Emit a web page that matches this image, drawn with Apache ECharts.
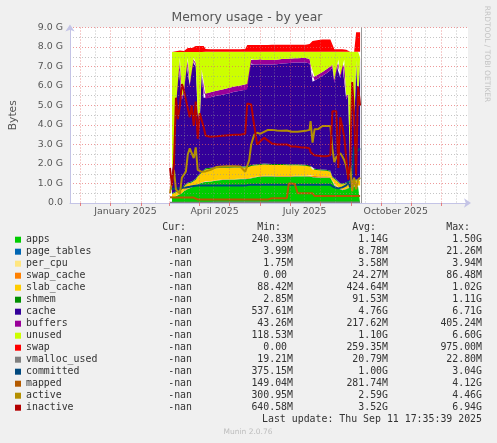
<!DOCTYPE html>
<html>
<head>
<meta charset="utf-8">
<script src="https://cdn.jsdelivr.net/npm/echarts@6/dist/echarts.min.js"></script>
<style>
html,body{margin:0;padding:0;background:#f0f0f0;}
#c{width:497px;height:443px;}
</style>
</head>
<body>
<div id="c"></div>
<script>
// Days since 1 Jan 2025 (lines start at day 60, areas at day 62)
const days = [60,62,64,66,68,70,72,74,76,78,80,82,84,86,88,90,92,94,96,101,107,113,119,125,131,136,138,140,142,145,148,151,155,159,163,168,173,178,180,183,186,189,193,197,201,202,204,206,210,214,218,222,224,226,228,230,232,234,236,238,240,242,244,246,248,250,252];
const areaDays = [62,64,66,68,70,72,74,76,78,80,82,84,86,88,90,92,94,96,101,107,113,119,125,131,136,138,140,142,145,148,151,155,159,163,168,173,178,180,183,186,189,193,197,201,202,204,206,210,214,218,222,224,226,228,230,232,234,236,238,240,242,244,246,248,250,252];

// Stacked areas (GiB)
const apps = [.30,.32,.35,.40,.45,.50,.60,.70,.72,.75,.80,.85,.90,.95,1.00,1.05,1.07,1.08,1.10,1.15,1.18,1.20,1.20,1.22,1.22,1.22,1.25,1.27,1.30,1.33,1.35,1.36,1.36,1.36,1.35,1.35,1.35,1.35,1.35,1.36,1.36,1.37,1.36,1.36,1.35,1.32,1.31,1.30,1.30,1.30,1.28,1.10,.90,.85,.75,.70,.65,.65,.70,.75,.80,.85,.85,.85,.85,.85];
const page_tables = [.005,.005,.005,.005,.005,.005,.005,.005,.005,.005,.005,.005,.005,.005,.005,.005,.005,.008,.008,.008,.008,.008,.008,.008,.008,.008,.008,.008,.008,.008,.008,.008,.008,.008,.008,.008,.008,.008,.008,.008,.008,.008,.008,.008,.010,.010,.010,.010,.010,.010,.010,.015,.015,.015,.015,.015,.015,.015,.015,.015,.015,.015,.015,.015,.015,.015];
const per_cpu = [.0018,.0018,.0018,.0018,.0018,.0018,.0018,.0018,.0018,.0018,.0018,.0018,.0018,.0018,.0018,.0018,.0018,.0037,.0037,.0037,.0037,.0037,.0037,.0037,.0037,.0037,.0037,.0037,.0037,.0037,.0037,.0037,.0037,.0037,.0037,.0037,.0037,.0037,.0037,.0037,.0037,.0037,.0037,.0037,.0037,.0037,.0037,.0037,.0037,.0037,.0037,.0037,.0037,.0037,.0037,.0037,.0037,.0037,.0037,.0037,.0037,.0037,.0037,.0037,.0037,.0037];
const swap_cache = [0,0,0,0,0,0,0,0,0,0,0,0,0,0,0,0,0,.02,.02,.02,.02,.02,.02,.02,.02,.02,.02,.02,.02,.02,.02,.02,.02,.02,.02,.02,.02,.02,.02,.02,.02,.02,.02,.02,.06,.06,.06,.06,.06,.06,.06,.03,.03,.03,.03,.03,.03,.03,.03,.03,.03,.03,.03,.03,.03,.03];
const slab_cache = [.14,.17,.19,.19,.19,.19,.24,.24,.27,.24,.24,.24,.29,.39,.44,.49,.57,.61,.62,.60,.59,.57,.59,.57,.57,.57,.60,.60,.59,.57,.57,.58,.57,.56,.57,.57,.56,.55,.55,.54,.54,.52,.52,.51,.43,.33,.32,.31,.29,.28,.25,.16,.26,.26,.26,.21,.21,.26,.26,.26,.26,.26,.26,.26,.26,.26];
const shmem = [.05,.05,.05,.05,.05,.05,.05,.05,.05,.05,.05,.05,.05,.05,.05,.05,.05,.06,.05,.05,.05,.05,.05,.05,.05,.06,.05,.05,.05,.05,.05,.05,.05,.05,.05,.05,.05,.05,.05,.05,.05,.05,.05,.05,.05,.05,.05,.05,.05,.05,.05,.05,.05,.05,.05,.05,.05,.05,.05,.05,.05,.05,.05,.05,.05,.05];
const cache = [1.10,1.55,4.20,6.65,6.60,4.55,4.70,6.30,6.25,4.95,6.20,6.15,5.75,3.10,2.60,5.10,3.70,3.57,3.62,3.67,3.70,3.77,3.83,3.88,3.93,3.94,5.17,5.20,5.13,5.12,5.12,5.08,5.09,5.10,5.12,5.15,5.18,5.20,5.21,5.22,5.22,5.23,5.24,5.20,5.00,4.45,4.53,4.67,4.81,4.95,5.15,5.60,4.90,5.90,6.05,5.40,6.20,6.15,4.25,4.40,.05,5.10,2.40,5.90,3.80,6.10];
const buffers = [.10,.10,.20,.15,.15,.15,.15,.15,.15,.10,.15,.15,.20,.15,.15,.15,.20,.25,.26,.26,.27,.28,.27,.27,.27,.28,.23,.23,.25,.25,.25,.23,.23,.23,.23,.23,.22,.22,.22,.22,.22,.23,.23,.23,.20,.20,.20,.20,.20,.20,.20,.15,.15,.20,.20,.15,.20,.20,.15,.10,.10,.15,.10,.20,.10,.15];
const unused = [6.05,5.55,2.75,.30,.30,2.30,2.00,.30,.30,1.65,.30,.30,.55,3.10,3.50,.90,2.15,2.15,2.07,1.99,1.93,1.85,1.78,1.73,1.68,1.65,.42,.37,.40,.40,.38,.42,.42,.42,.40,.37,.36,.35,.34,.33,.33,.32,.32,.37,.65,1.33,1.27,1.15,1.03,.90,.75,.65,1.45,.45,.40,1.20,.40,.40,2.30,2.15,6.45,1.30,4.05,.45,2.65,.30];
const swap = [0,0,.03,.05,.07,.03,.05,.10,.20,.20,.20,.25,.30,.30,.30,.33,.30,.15,.13,.13,.13,.13,.13,.13,.15,.35,.35,.35,.35,.35,.35,.35,.35,.37,.37,.37,.37,.37,.37,.37,.37,.37,.37,.40,.45,.55,.60,.60,.63,.63,.63,.55,.13,.13,.13,.13,.13,.13,.10,.05,0,0,0,1.00,1.00,1.00];

// Lines (GiB)
const vmalloc_used = [.019,.019,.019,.019,.019,.019,.019,.019,.019,.019,.019,.019,.019,.019,.019,.019,.019,.019,.019,.019,.020,.020,.020,.020,.020,.020,.020,.020,.020,.020,.020,.020,.020,.020,.020,.020,.020,.020,.020,.020,.021,.021,.021,.021,.021,.021,.021,.021,.021,.021,.021,.021,.021,.021,.021,.022,.022,.022,.022,.022,.022,.022,.022,.022,.022,.022,.022];
const committed = [.75,.70,.72,.72,.75,.75,.78,.80,.80,.82,.83,.85,.87,.88,.90,.90,.90,.90,.90,.90,.90,.90,.90,.90,.90,.90,.90,.93,.93,.93,.93,.93,.93,.93,.93,.93,.93,.93,.93,.93,.93,.93,.93,.93,.93,.93,.93,.93,.93,.93,.93,.93,.85,.80,.75,.75,.80,.80,.85,.90,1.10,.80,1.50,2.90,2.60,2.50,2.80];
const mapped = [.30,.28,.28,.28,.28,.28,.28,.28,.28,.28,.28,.28,.28,.18,.18,.18,.18,.18,.18,.18,.18,.18,.18,.18,.18,.18,.18,.18,.18,.18,.18,.18,.18,.18,.25,.25,.25,.25,1.00,1.00,.98,.50,.50,.50,.50,.50,.50,.36,.36,.36,.36,.36,.36,.36,.36,.36,.36,.36,.36,.36,.36,.36,.36,.36,.36,.36,.36];
const active = [.50,.60,1.70,.70,.80,.45,1.30,1.40,1.60,2.50,2.80,2.70,2.30,2.85,1.70,1.60,1.60,1.60,1.62,1.70,1.85,1.87,1.88,1.88,1.87,1.60,1.62,2.20,3.00,3.50,3.60,3.55,3.65,3.75,3.75,3.72,3.70,3.72,3.70,3.65,3.65,3.65,3.68,3.70,3.75,4.20,3.10,3.78,3.80,3.95,3.95,3.95,2.80,2.10,2.35,2.40,2.55,2.40,2.20,1.90,1.35,2.00,.60,1.30,.70,1.20,1.30];
const inactive = [1.80,.90,2.00,5.40,4.30,5.00,6.10,5.80,5.30,5.20,4.40,5.00,3.95,5.20,3.30,4.60,4.60,3.90,3.45,3.40,3.42,3.45,3.48,3.50,3.50,3.55,5.10,5.10,5.05,4.00,3.00,3.15,3.35,3.20,3.05,3.00,3.00,3.00,2.95,2.90,2.90,2.88,2.85,2.85,2.80,2.60,2.50,2.45,2.42,2.40,2.40,2.45,4.70,4.75,4.70,1.80,4.40,4.50,3.40,3.50,1.20,2.00,6.20,4.50,1.40,6.00,5.00];

// Axis ticks / labels (days since 1 Jan 2025)
const monthStarts = [-31,0,31,59,90,120,151,181,212,243,273,304,334];
const midMonths = [-16,15,45,74,104,135,165,196,227,257,288,318,349];
const labelDays = [15,105,196,288];
const labelTexts = ['January 2025','April 2025','July 2025','October 2025'];
const lastDataDay = 253;
const axisStartDay = -41, axisEndDay = 361;

// Legend table
const names = ['apps','page_tables','per_cpu','swap_cache','slab_cache','shmem','cache','buffers','unused','swap','vmalloc_used','committed','mapped','active','inactive'];
const colors = ['#00CC00','#0066B3','#FFE680','#FF8000','#FFCC00','#008F00','#330099','#990099','#CCFF00','#FF0000','#808080','#00487D','#B35A00','#B38F00','#B30000'];
const curVals = ['-nan','-nan','-nan','-nan','-nan','-nan','-nan','-nan','-nan','-nan','-nan','-nan','-nan','-nan','-nan'];
const minVals = ['240.33M','3.99M','1.75M','0.00 ','88.42M','2.85M','537.61M','43.26M','118.53M','0.00 ','19.21M','375.15M','149.04M','300.95M','640.58M'];
const avgVals = ['1.14G','8.78M','3.58M','24.27M','424.64M','91.53M','4.76G','217.62M','1.10G','259.35M','20.79M','1.00G','281.74M','2.59G','3.52G'];
const maxVals = ['1.50G','21.26M','3.94M','86.48M','1.02G','1.11G','6.71G','405.24M','6.60G','975.00M','22.80M','3.04G','4.12G','4.46G','6.94G'];
const headers = ['Cur:','Min:','Avg:','Max:'];

const SANS = '"DejaVu Sans"';
const MONO = '"DejaVu Sans Mono"';

const areaData = [apps,page_tables,per_cpu,swap_cache,slab_cache,shmem,cache,buffers,unused,swap];
const lineData = [vmalloc_used,committed,mapped,active,inactive];
// rows are [value, day]; encode maps column 1 to x, column 0 to y so that stacking happens on y
const rows = (xs, arr) => xs.map((d,i) => [arr[i], d]);

const series = [];
areaData.forEach((arr,i) => {
  series.push({
    name: names[i], type:'line', stack:'mem', data: rows(areaDays, arr), encode:{x:1, y:0},
    color: colors[i], symbol:'none', showSymbol:false,
    lineStyle:{width:0}, areaStyle:{color: colors[i], opacity:1},
    emphasis:{disabled:true}, z:2
  });
});
lineData.forEach((arr,j) => {
  const i = areaData.length + j;
  const s = {
    name: names[i], type:'line', data: rows(days, arr), encode:{x:1, y:0},
    color: colors[i], symbol:'none', showSymbol:false,
    lineStyle:{width:2, color: colors[i]},
    emphasis:{disabled:true}, z:3
  };
  if (j === 0) {
    s.markLine = {silent:true, symbol:'none', label:{show:false},
      lineStyle:{color:'#9a9a9a', width:1, type:'solid'},
      data:[{xAxis:lastDataDay}]};
  }
  series.push(s);
});

const graphics = [];
graphics.push({type:'text', x:487, y:54, rotation:-Math.PI/2,
  style:{text:'RRDTOOL / TOBI OETIKER', font:'7.5px '+SANS, fill:'#c4c4c4', align:'center', verticalAlign:'middle'}});
const headerX = [186,281,376,470];
headers.forEach((h,k) => graphics.push({type:'text', x:headerX[k], y:227.7,
  style:{text:h, font:'9.9px '+MONO, fill:'#333', align:'right', verticalAlign:'middle'}}));
const colX = [192,293,388,482];
[curVals,minVals,avgVals,maxVals].forEach((col,k) => {
  col.forEach((txt,i) => graphics.push({type:'text', x:colX[k], y:239.7 + 12*i,
    style:{text:txt, font:'9.9px '+MONO, fill:'#333', align:'right', verticalAlign:'middle'}}));
});
graphics.push({type:'text', x:482, y:419,
  style:{text:'Last update: Thu Sep 11 17:35:39 2025', font:'9.9px '+MONO, fill:'#333', align:'right', verticalAlign:'middle'}});
graphics.push({type:'text', x:248, y:432,
  style:{text:'Munin 2.0.76', font:'7.5px '+SANS, fill:'#bdbdbd', align:'center', verticalAlign:'middle'}});

const redGrid = {color:'rgba(228,100,100,0.65)', type:[1,2], width:1};
const grayGrid = {color:'rgba(150,150,150,0.55)', type:[1,2], width:1};
const axisCol = '#c4c4e6';

const option = {
  animation:false,
  backgroundColor:'#f0f0f0',
  title:{text:'Memory usage - by year', left:171.5, top:11.5, padding:0,
    textStyle:{fontFamily:SANS, fontSize:12.4, fontWeight:'normal', color:'#555'}},
  grid:{left:66, top:27.5, width:402, height:175.5, show:true, backgroundColor:'#ffffff', borderWidth:0},
  legend:{orient:'vertical', left:15, top:233.7, padding:0, itemGap:0, itemWidth:6, itemHeight:6,
    icon:'rect', selectedMode:false, data:names,
    textStyle:{fontFamily:MONO, fontSize:9.9, color:'#333', lineHeight:12, padding:0}},
  xAxis:[
    {type:'value', min:axisStartDay, max:axisEndDay, z:5,
      axisLine:{show:true, onZero:false, lineStyle:{color:axisCol, width:1}, symbol:['none','arrow'], symbolSize:[7,7], symbolOffset:[0,3]},
      axisTick:{show:true, length:3, customValues:monthStarts, lineStyle:{color:'rgba(228,100,100,0.8)'}},
      axisLabel:{customValues:labelDays, margin:4, fontFamily:SANS, fontSize:9.4, color:'#555',
        formatter: v => { const k = labelDays.indexOf(v); return k >= 0 ? labelTexts[k] : ''; }},
      splitLine:{show:true, lineStyle:redGrid}},
    {type:'value', min:axisStartDay, max:axisEndDay, z:4, position:'top',
      axisLine:{show:false, onZero:false}, axisTick:{show:false, customValues:midMonths}, axisLabel:{show:false},
      splitLine:{show:true, lineStyle:grayGrid}}
  ],
  yAxis:{type:'value', min:0, max:9, interval:1, z:5,
    name:'Bytes', nameLocation:'middle', nameGap:51, nameRotate:90,
    nameTextStyle:{fontFamily:SANS, fontSize:10.7, color:'#555'},
    axisLine:{show:true, onZero:false, lineStyle:{color:axisCol, width:1}, symbol:['none','arrow'], symbolSize:[7,7], symbolOffset:[0,3]},
    axisTick:{show:false},
    axisLabel:{fontFamily:SANS, fontSize:9.4, color:'#555', margin:7,
      formatter: v => v === 0 ? '0.0' : v.toFixed(1) + ' G'},
    splitLine:{show:true, lineStyle:redGrid},
    minorTick:{show:false, splitNumber:2},
    minorSplitLine:{show:true, lineStyle:grayGrid}},
  series: series,
  graphic: graphics
};

const chart = echarts.init(document.getElementById('c'), null, {renderer:'canvas'});
chart.setOption(option);
</script>
</body>
</html>
